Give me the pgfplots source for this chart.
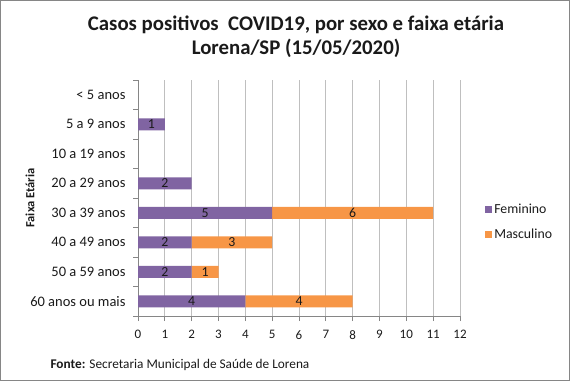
\documentclass[border=0pt]{standalone}
\usepackage{pgfplots}
\pgfplotsset{compat=1.18}
\usepackage{pgfplotstable}
\usepackage{fontspec}
\setmainfont{Carlito}
\definecolor{fem}{HTML}{8064A2}
\definecolor{mas}{HTML}{F79646}
\definecolor{gridc}{HTML}{BFBFBF}
\definecolor{axc}{HTML}{868686}
\definecolor{txt}{HTML}{1A1A1A}
\pgfplotstableread{
cat f m
0 4 4
1 2 1
2 2 3
3 5 6
4 2 0
5 0 0
6 1 0
7 0 0
}\data
\begin{document}
\begin{tikzpicture}[x=1pt,y=1pt]
\path[use as bounding box] (0,0) rectangle (570,381);
\draw[axc, line width=1pt] (0.5,0.5) rectangle (569.5,380.5);
\node[font=\fontsize{20.8}{24}\selectfont\bfseries, txt] at (296,356) {Casos positivos\ \ COVID19, por sexo e faixa etária};
\node[font=\fontsize{20.8}{24}\selectfont\bfseries, txt] at (296,333) {Lorena/SP (15/05/2020)};
\node[anchor=west, font=\fontsize{13.3}{15}\selectfont, txt] at (47,16) {\textbf{Fonte:} Secretaria Municipal de Saúde de Lorena};
\begin{axis}[at={(138pt,65pt)}, anchor=south west, scale only axis,
  width=322pt, height=236pt,
  xbar stacked, bar width=12pt,
  xmin=0, xmax=12, ymin=-0.5, ymax=7.5,
  xtick={0,...,12},
  ytick={-0.5,0.5,...,7.5}, y tick label as interval,
  yticklabels={60 anos ou mais, 50 a 59 anos, 40 a 49 anos, 30 a 39 anos, 20 a 29 anos, 10 a 19 anos, 5 a 9 anos, < 5 anos},
  axis lines*=left,
  axis line style={axc, line width=0.8pt, -},
  tick style={axc, line width=0.8pt},
  tick align=outside, major tick length=5pt,
  xmajorgrids, major grid style={gridc, line width=0.8pt},
  /pgf/number format/assume math mode=true,
  xticklabel style={font=\fontsize{13}{15}\selectfont, text=txt, yshift=-6pt},
  yticklabel style={font=\fontsize{14.5}{16}\selectfont, text=txt, xshift=-4pt},
  ylabel={\textbf{Faixa Etária}},
  every axis y label/.style={at={(rel axis cs:0,0.5)}, xshift=-108pt, rotate=90, anchor=center, font=\fontsize{12.5}{14}\selectfont, text=txt},
  legend style={draw=none, fill=none, inner sep=0pt, anchor=west, at={(rel axis cs:1.078,0.40)},
    row sep=10pt, font=\fontsize{13.8}{15}\selectfont, text=txt},
  legend cell align=left,
  legend image code/.code={\fill[#1] (0pt,-3.5pt) rectangle (7pt,3.5pt);},
]
\addplot[fill=fem, draw=none,
  visualization depends on={\thisrow{f} \as \val},
  nodes near coords={\ifdim\val pt>0pt \pgfmathprintnumber{\val}\fi},
  every node near coord/.append style={anchor=center, font=\fontsize{13.8}{15}\selectfont, text=txt}]
  table[x=f, y=cat] {\data};
\addlegendentry{Feminino}
\addplot[fill=mas, draw=none,
  visualization depends on={\thisrow{m} \as \val},
  nodes near coords={\ifdim\val pt>0pt \pgfmathprintnumber{\val}\fi},
  every node near coord/.append style={anchor=center, font=\fontsize{13.8}{15}\selectfont, text=txt}]
  table[x=m, y=cat] {\data};
\addlegendentry{Masculino}
\end{axis}
\end{tikzpicture}
\end{document}
